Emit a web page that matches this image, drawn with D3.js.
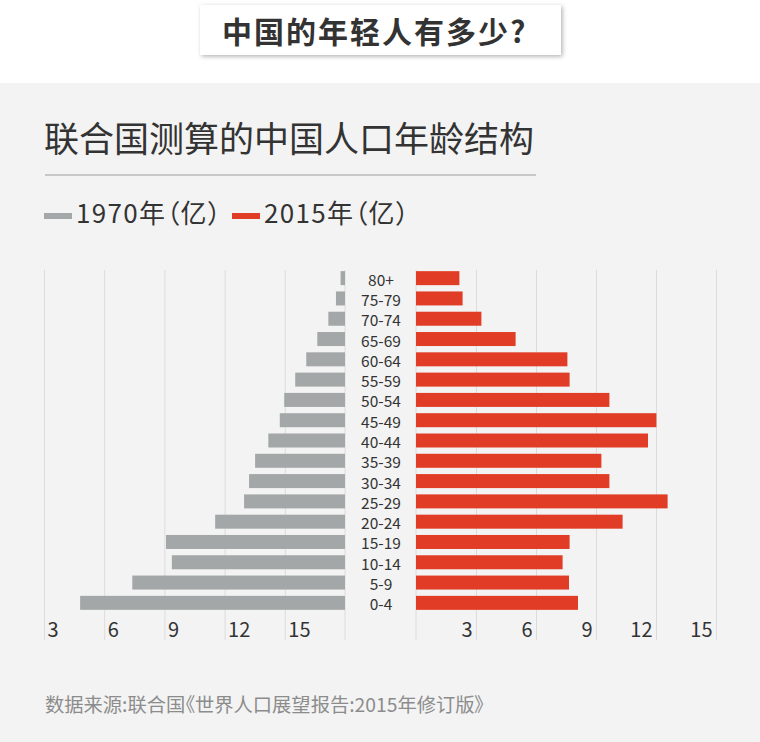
<!DOCTYPE html>
<html>
<head>
<meta charset="utf-8">
<script src="https://cdn.jsdelivr.net/npm/d3@7/dist/d3.min.js"></script>
<style>
  html, body { margin: 0; padding: 0; background: #ffffff; }
  svg { display: block; }
  text { font-family: "Noto Sans CJK SC", "Noto Sans", sans-serif; }
  .palt { font-feature-settings: "palt" 1; }
</style>
</head>
<body>
<svg id="chart" width="760" height="742"></svg>
<script>
// ---- data ----
const ageGroups = ["80+","75-79","70-74","65-69","60-64","55-59","50-54","45-49","40-44","35-39","30-34","25-29","20-24","15-19","10-14","5-9","0-4"];
const pop1970 = [0.22,0.45,0.83,1.38,1.93,2.48,3.03,3.25,3.82,4.48,4.78,5.03,6.47,8.92,8.63,10.6,13.2];
const pop2015 = [2.17,2.33,3.27,4.98,7.57,7.68,9.67,12.02,11.6,9.27,9.67,12.58,10.33,7.68,7.33,7.65,8.1];
const leftTickValues = [15,12,9,6,3];
const leftTickLabels = ["3","6","9","12","15"];
const rightTickValues = [3,6,9,12,15];
const rightTickLabels = ["3","6","9","12","15"];
const seriesNames = ["1970年（亿）","2015年（亿）"];
const titleText = "中国的年轻人有多少?";
const subtitleText = "联合国测算的中国人口年龄结构";
const sourceText = "数据来源:联合国《世界人口展望报告:2015年修订版》";

const colors = { c1970: "#a3a7a7", c2015: "#e13d26", grid: "#dcdcdc", text: "#333333" };

const svg = d3.select("#chart");

// background panel
svg.append("rect").attr("x",0).attr("y",0).attr("width",760).attr("height",742).attr("fill","#ffffff");
svg.append("rect").attr("x",0).attr("y",83).attr("width",760).attr("height",659).attr("fill","#f3f3f3");

// title box with shadow
const defs = svg.append("defs");
const f = defs.append("filter").attr("id","shadow").attr("x","-10%").attr("y","-30%").attr("width","120%").attr("height","160%");
f.append("feDropShadow").attr("dx",1.5).attr("dy",1.5).attr("stdDeviation",2).attr("flood-color","#000").attr("flood-opacity",0.3);
svg.append("rect").attr("x",200).attr("y",5).attr("width",361).attr("height",50)
  .attr("fill","#ffffff").attr("filter","url(#shadow)");
svg.append("text").attr("x",222).attr("y",43)
  .attr("font-size",30).attr("font-weight",700).attr("fill","#333")
  .attr("letter-spacing",2)
  .text(titleText);

// subtitle
svg.append("text").attr("x",44).attr("y",152)
  .attr("font-size",35).attr("fill","#333").text(subtitleText);
svg.append("line").attr("x1",45).attr("x2",536).attr("y1",175).attr("y2",175)
  .attr("stroke","#c8c8c8").attr("stroke-width",2);

// legend
const legendItems = [
  {name: seriesNames[0], color: colors.c1970, x: 44},
  {name: seriesNames[1], color: colors.c2015, x: 232}
];
const lg = svg.append("g").selectAll("g").data(legendItems).join("g")
  .attr("transform", d => `translate(${d.x},0)`);
lg.append("rect").attr("x",0).attr("y",213).attr("width",28).attr("height",6).attr("fill", d => d.color);
lg.append("text").attr("class","palt").attr("x",32).attr("y",223).attr("font-size",26)
  .attr("letter-spacing",1.3).attr("fill","#333").text(d => d.name);

// scales
const y = d3.scaleBand().domain(ageGroups).range([268, 613]).paddingInner(0.31).paddingOuter(0.155);
const xL = d3.scaleLinear().domain([0,15]).range([345, 44]);
const xR = d3.scaleLinear().domain([0,15]).range([416, 716]);

const gridTop = 270, gridBottom = 640;

// base gridlines at zero
svg.append("g").selectAll("line").data([xL(0), xR(0)]).join("line")
  .attr("x1", d => d).attr("x2", d => d).attr("y1", gridTop).attr("y2", gridBottom)
  .attr("stroke", colors.grid).attr("stroke-width",1);

// left axis (gridlines + labels)
const axL = svg.append("g").attr("transform",`translate(0,${gridBottom})`)
  .call(d3.axisBottom(xL).tickValues(leftTickValues)
    .tickFormat((d,i) => leftTickLabels[i])
    .tickSize(-(gridBottom - gridTop)));
axL.select(".domain").remove();
axL.selectAll(".tick line").attr("stroke", colors.grid);
axL.selectAll(".tick text").attr("x",3).attr("y",-3).attr("dy",0)
  .attr("text-anchor","start").attr("font-size",20).attr("fill","#333")
  .attr("font-family","\"Noto Sans CJK SC\", \"Noto Sans\", sans-serif");

// right axis
const axR = svg.append("g").attr("transform",`translate(0,${gridBottom})`)
  .call(d3.axisBottom(xR).tickValues(rightTickValues)
    .tickFormat((d,i) => rightTickLabels[i])
    .tickSize(-(gridBottom - gridTop)));
axR.select(".domain").remove();
axR.selectAll(".tick line").attr("stroke", colors.grid);
axR.selectAll(".tick text").attr("x",-4).attr("y",-3).attr("dy",0)
  .attr("text-anchor","end").attr("font-size",20).attr("fill","#333")
  .attr("font-family","\"Noto Sans CJK SC\", \"Noto Sans\", sans-serif");

// bars
svg.append("g").selectAll("rect").data(ageGroups).join("rect")
  .attr("x", (d,i) => xL(pop1970[i]))
  .attr("y", d => y(d))
  .attr("width", (d,i) => xL(0) - xL(pop1970[i]))
  .attr("height", y.bandwidth())
  .attr("fill", colors.c1970);

svg.append("g").selectAll("rect").data(ageGroups).join("rect")
  .attr("x", xR(0))
  .attr("y", d => y(d))
  .attr("width", (d,i) => xR(pop2015[i]) - xR(0))
  .attr("height", y.bandwidth())
  .attr("fill", colors.c2015);

// age labels
svg.append("g").selectAll("text").data(ageGroups).join("text")
  .attr("x", 381)
  .attr("y", d => y(d) + y.bandwidth()/2 + 7.5)
  .attr("text-anchor","middle")
  .attr("font-family","\"Liberation Sans\", Arial, sans-serif")
  .attr("font-size",15.5).attr("fill","#333")
  .text(d => d);

// source
svg.append("text").attr("class","palt").attr("x",45).attr("y",712)
  .attr("font-size",19.3).attr("fill","#8c8c8c").text(sourceText);
</script>
</body>
</html>
